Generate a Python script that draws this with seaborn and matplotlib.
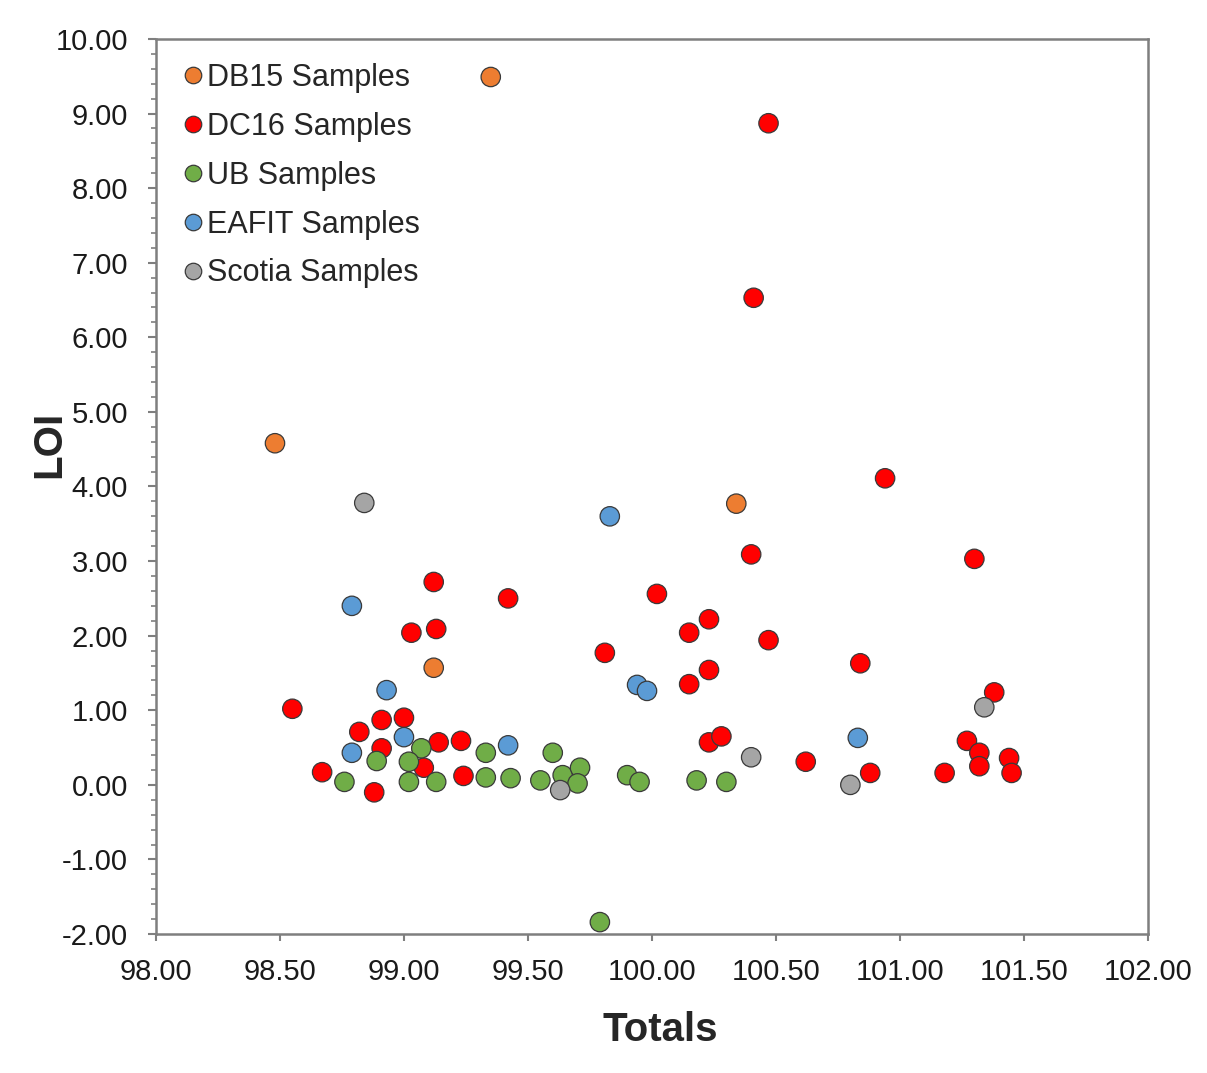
import matplotlib
matplotlib.use("Agg")
import matplotlib.pyplot as plt
from matplotlib.ticker import MultipleLocator, FormatStrFormatter
import seaborn as sns
import pandas as pd

series_names = ["DB15 Samples", "DC16 Samples", "UB Samples", "EAFIT Samples", "Scotia Samples"]
series_colors = ["#ED7D31", "#FF0000", "#70AD47", "#5B9BD5", "#A5A5A5"]

db15_totals = [99.35, 98.48, 100.34, 99.12]
db15_loi = [9.49, 4.58, 3.77, 1.57]

dc16_totals = [100.47, 100.41, 100.94, 100.40, 101.30, 99.12, 99.42, 100.02, 99.13, 99.03,
               100.15, 100.23, 100.47, 99.81, 100.84, 100.23, 100.15, 98.55, 101.38, 98.82,
               98.91, 99.00, 98.91, 99.14, 99.23, 100.23, 100.28, 99.08, 98.67, 98.88,
               99.24, 100.62, 100.88, 101.18, 101.27, 101.32, 101.32, 101.44, 101.45]
dc16_loi = [8.87, 6.53, 4.11, 3.09, 3.03, 2.72, 2.50, 2.56, 2.09, 2.04,
            2.04, 2.22, 1.94, 1.77, 1.63, 1.54, 1.35, 1.02, 1.24, 0.71,
            0.87, 0.90, 0.49, 0.57, 0.59, 0.57, 0.65, 0.23, 0.17, -0.10,
            0.12, 0.31, 0.16, 0.16, 0.59, 0.43, 0.25, 0.36, 0.16]

ub_totals = [99.60, 99.43, 99.55, 99.64, 99.71, 99.70, 99.90, 99.95, 100.18, 100.30,
             99.33, 99.07, 98.89, 99.02, 98.76, 99.02, 99.13, 99.33, 99.79]
ub_loi = [0.43, 0.09, 0.06, 0.13, 0.23, 0.02, 0.13, 0.04, 0.06, 0.04,
          0.43, 0.49, 0.32, 0.31, 0.04, 0.04, 0.04, 0.10, -1.84]

eafit_totals = [99.83, 98.79, 98.93, 99.00, 99.42, 98.79, 99.94, 99.98, 100.83]
eafit_loi = [3.60, 2.40, 1.27, 0.64, 0.53, 0.43, 1.34, 1.26, 0.63]

scotia_totals = [98.84, 101.34, 100.40, 100.80, 99.63]
scotia_loi = [3.78, 1.04, 0.37, 0.00, -0.07]

frames = []
for name, xs, ys in zip(series_names,
                        [db15_totals, dc16_totals, ub_totals, eafit_totals, scotia_totals],
                        [db15_loi, dc16_loi, ub_loi, eafit_loi, scotia_loi]):
    frames.append(pd.DataFrame({"Totals": xs, "LOI": ys, "Series": name}))
df = pd.concat(frames, ignore_index=True)

sns.set_theme(style="white")
plt.rcParams["font.family"] = ["Liberation Sans", "DejaVu Sans"]

fig = plt.figure(figsize=(12.07, 10.73), dpi=100)
ax = fig.add_axes([0.1292, 0.1295, 0.9511 - 0.1292, 0.9637 - 0.1295])

sns.scatterplot(data=df, x="Totals", y="LOI", hue="Series", hue_order=series_names,
                palette=dict(zip(series_names, series_colors)), s=195,
                edgecolor="#3a3a3a", linewidth=0.9, ax=ax, legend=True)

ax.set_xlim(98, 102)
ax.set_ylim(-2, 10)
ax.xaxis.set_major_locator(MultipleLocator(0.5))
ax.yaxis.set_major_locator(MultipleLocator(1.0))
ax.yaxis.set_minor_locator(MultipleLocator(0.2))
ax.xaxis.set_major_formatter(FormatStrFormatter("%.2f"))
ax.yaxis.set_major_formatter(FormatStrFormatter("%.2f"))

for sp in ax.spines.values():
    sp.set_color("#7f7f7f")
    sp.set_linewidth(1.8)
    sp.set_visible(True)

ax.tick_params(axis="x", which="major", direction="out", length=5, width=1.5,
               color="#7f7f7f", labelsize=21, labelcolor="#1a1a1a", pad=12,
               bottom=True)
ax.tick_params(axis="y", which="major", direction="out", length=6, width=1.5,
               color="#7f7f7f", labelsize=21, labelcolor="#1a1a1a", pad=14,
               left=True)
ax.tick_params(axis="y", which="minor", direction="out", length=3.5, width=1.2,
               color="#7f7f7f", left=True)

ax.set_xlabel("Totals", fontsize=29, fontweight="bold")
ax.set_ylabel("LOI", fontsize=29, fontweight="bold")
ax.xaxis.set_label_coords(0.508, -0.0865)
ax.yaxis.set_label_coords(-0.088, 0.5475)

leg = ax.legend(loc="upper left", frameon=False, fontsize=22, markerscale=0.85,
                handlelength=0.6, handletextpad=0.15, labelspacing=0.62,
                borderpad=0.0, borderaxespad=0.0,
                bbox_to_anchor=(0.028, 0.9735))
for h in leg.legend_handles:
    if hasattr(h, "set_markeredgecolor"):
        h.set_markeredgecolor("#3a3a3a")

fig.savefig("out.png", dpi=100, facecolor="white")
